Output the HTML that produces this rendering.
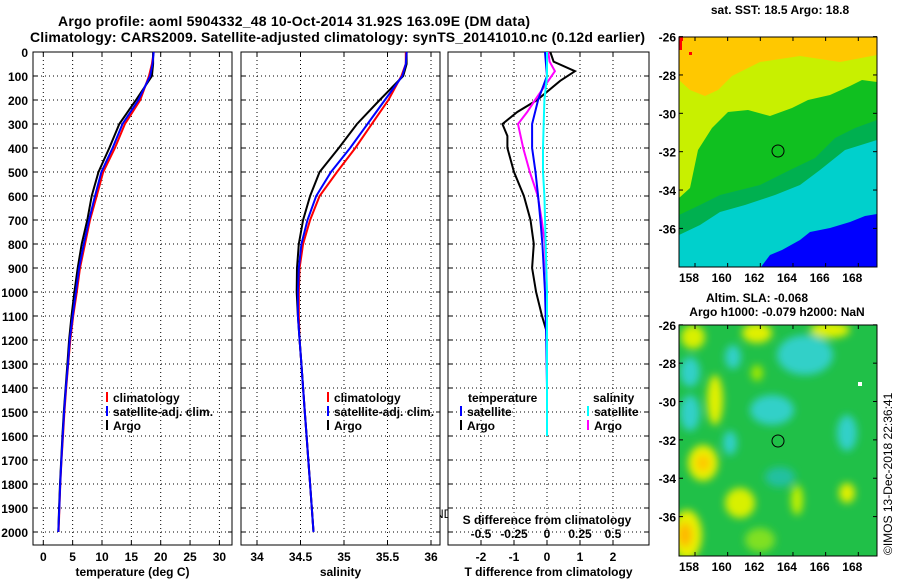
<!DOCTYPE html>
<html><head><meta charset="utf-8"><style>
html,body{margin:0;padding:0;background:#fff;width:900px;height:580px;overflow:hidden}
svg{display:block;font-family:"Liberation Sans",Arial,sans-serif}
.t{font-size:12px;font-weight:bold}
</style></head><body>
<svg id="fig" width="900" height="580" viewBox="0 0 900 580">
<defs>
<filter id="bl" x="-50%" y="-50%" width="200%" height="200%"><feGaussianBlur stdDeviation="4"/></filter>
<clipPath id="cm1"><rect x="679" y="37" width="198" height="230"/></clipPath>
<clipPath id="cm2"><rect x="679" y="325" width="198" height="231"/></clipPath>
</defs>
<text x="58" y="26" font-size="14" font-weight="bold" textLength="472">Argo profile: aoml 5904332_48 10-Oct-2014 31.92S 163.09E (DM data)</text>
<text x="30" y="42" font-size="14" font-weight="bold" textLength="615">Climatology: CARS2009. Satellite-adjusted climatology: synTS_20141010.nc (0.12d earlier)</text>

<g id="maps">
<g clip-path="url(#cm1)">
<rect x="679" y="37" width="198" height="230" fill="#00d0cc"/>
<polygon fill="#00b050" points="679,235 700,225 720,212 745,205 775,195 800,185 820,170 845,150 877,140 877,37 679,37"/>
<polygon fill="#10c020" points="679,215 700,205 720,195 760,185 790,170 815,158 835,138 855,128 877,120 877,37 679,37"/>
<polygon fill="#c8f000" points="679,198 690,188 698,150 712,128 728,112 748,110 770,116 792,108 808,100 830,95 850,86 862,80 877,82 877,37 679,37"/>
<polygon fill="#ffc800" points="679,80 690,90 705,96 718,90 732,76 760,62 800,56 840,62 877,55 877,37 679,37"/>
<polygon fill="#0000ff" points="761,267 770,255 782,250 800,240 810,232 830,228 850,222 865,216 877,214 877,267"/>
<rect x="679" y="37" width="4" height="4" fill="#ff0000"/><rect x="679" y="41" width="3" height="9" fill="#ff0000"/><rect x="689" y="52" width="3" height="3" fill="#ff0000"/>
</g>
<circle cx="778" cy="151" r="6" fill="none" stroke="#000"/>
<rect x="679" y="37" width="198" height="230" fill="none" stroke="#000"/>

<g clip-path="url(#cm2)">
<rect x="679" y="325" width="198" height="231" fill="#20c048"/>
<g filter="url(#bl)">
<ellipse cx="690" cy="372" rx="10" ry="15" fill="#30d0c8"/>
<ellipse cx="690" cy="413" rx="10" ry="18" fill="#30d0c8"/>
<ellipse cx="805" cy="355" rx="28" ry="20" fill="#30d0c8"/>
<ellipse cx="772" cy="410" rx="22" ry="15" fill="#30d0c8"/>
<ellipse cx="733" cy="357" rx="8" ry="12" fill="#30d0c8"/>
<ellipse cx="730" cy="443" rx="7" ry="12" fill="#30d0c8"/>
<ellipse cx="847" cy="433" rx="10" ry="18" fill="#30d0c8"/>
<ellipse cx="780" cy="477" rx="15" ry="10" fill="#20c0a0"/>
<ellipse cx="703" cy="463" rx="15" ry="18" fill="#e8f000"/>
<ellipse cx="703" cy="463" rx="7" ry="8" fill="#ffc800"/>
<ellipse cx="715" cy="400" rx="8" ry="25" fill="#e0f000"/>
<ellipse cx="693" cy="337" rx="12" ry="12" fill="#d8f000"/>
<ellipse cx="757" cy="333" rx="15" ry="10" fill="#e0f000"/>
<ellipse cx="830" cy="330" rx="20" ry="8" fill="#e0f000"/>
<ellipse cx="687" cy="535" rx="15" ry="25" fill="#e8f000"/>
<ellipse cx="685" cy="535" rx="7" ry="12" fill="#ffb800"/>
<ellipse cx="740" cy="503" rx="15" ry="15" fill="#d8f000"/>
<ellipse cx="847" cy="493" rx="8" ry="10" fill="#e0f000"/>
<ellipse cx="797" cy="500" rx="6" ry="15" fill="#c0f000"/>
<ellipse cx="757" cy="373" rx="6" ry="8" fill="#a0e800"/>
<ellipse cx="760" cy="540" rx="15" ry="12" fill="#80e020"/>
</g>
<rect x="858" y="382" width="4" height="4" fill="#fff"/>
</g>
<circle cx="778" cy="441" r="6" fill="none" stroke="#000"/>
<rect x="679" y="325" width="198" height="231" fill="none" stroke="#000"/>

<text x="780" y="14" text-anchor="middle" class="t">sat. SST: 18.5 Argo: 18.8</text>
<text x="757" y="302" text-anchor="middle" class="t">Altim. SLA: -0.068</text>
<text x="777" y="316" text-anchor="middle" class="t">Argo h1000: -0.079 h2000: NaN</text>
<text transform="translate(892,555) rotate(-90)" font-size="12">©IMOS 13-Dec-2018 22:36:41</text>
</g>

<text x="327" y="518" font-size="12" fill="#000">ARGO NEW ZEALAND</text>
<text x="327" y="532" font-size="12" fill="#000">PI: PHIL SUTTON</text>
<g id="plots"></g>
</svg>
<script>
// ---- data ----
const tDepth = [0,50,100,200,300,400,500,600,700,800,900,1000,1100,1200,1300,1400,1500,1600,1700,1800,1900,2000];
const tArgo  = [18.7,18.7,18.5,15.8,12.95,11.25,9.4,8.25,7.5,6.55,5.86,5.3,4.8,4.4,4.1,3.8,3.5,3.25,3.05,2.85,2.7,2.55];
const tClim  = [18.8,18.5,18.0,16.5,13.9,12.2,10.2,9.1,7.95,7.1,6.25,5.7,5.1,4.6,4.25,3.9,3.6,3.35,3.1,2.9,2.75,2.6];
const tSat   = [18.8,18.6,18.2,16.2,13.5,11.8,9.9,8.8,7.8,6.9,6.1,5.55,5.0,4.5,4.2,3.85,3.55,3.3,3.08,2.88,2.72,2.55];
const sDepth = [0,50,100,200,300,400,500,600,700,800,900,1000,1100,1200,1300,1400,1500,1600,1700,1800,1900,2000];
const sArgo  = [35.72,35.72,35.68,35.41,35.15,34.94,34.72,34.61,34.53,34.48,34.46,34.456,34.47,34.49,34.51,34.53,34.55,34.57,34.59,34.61,34.63,34.65];
const sClim  = [35.71,35.71,35.66,35.51,35.32,35.13,34.92,34.72,34.61,34.53,34.49,34.48,34.48,34.49,34.51,34.53,34.55,34.57,34.59,34.61,34.63,34.65];
const sSat   = [35.72,35.71,35.67,35.47,35.27,35.07,34.85,34.68,34.58,34.51,34.48,34.47,34.47,34.49,34.51,34.53,34.55,34.57,34.59,34.61,34.63,34.65];
const dTDepth = [0,40,80,120,200,250,300,350,400,450,500,600,700,800,900,1000,1100,1170];
const dTArgo  = [0.1,0.2,0.85,0.4,-0.3,-0.9,-1.35,-1.2,-1.2,-1.1,-1.0,-0.7,-0.5,-0.4,-0.45,-0.33,-0.15,0.0];
const dTSDepth = [0,100,200,300,400,500,600,700,800,900,1000,1100,1200,1400,1600];
const dTSat    = [-0.06,0.0,-0.27,-0.45,-0.45,-0.35,-0.27,-0.2,-0.14,-0.1,-0.06,-0.04,-0.02,0.0,0.0];
const dSDepth = [0,40,80,200,250,300,400,500,600,700,800,900,1000,1100];
const dSArgo  = [0.01,0.02,0.06,-0.09,-0.15,-0.22,-0.18,-0.13,-0.07,-0.04,-0.015,-0.01,0.0,0.0];
const dSSDepth = [0,100,200,300,400,500,600,800,1000,1200,1400,1600];
const dSSat    = [0.0,0.0,-0.02,-0.025,-0.03,-0.03,-0.02,-0.01,0.0,0.0,0.0,0.0];
const depthTicks = [0,100,200,300,400,500,600,700,800,900,1000,1100,1200,1300,1400,1500,1600,1700,1800,1900,2000];
const tTicks = [0,5,10,15,20,25,30];
const sTicks = [34,34.5,35,35.5,36];
const dTicks = [-2,-1,0,1,2];
const dSTicks = [-0.5,-0.25,0,0.25,0.5];
const dSTickLabels = ['-0.5','-0.25','0','0.25','0.5'];
const latTicks = [-26,-28,-30,-32,-34,-36];
const lonTicks = [158,160,162,164,166,168];

// ---- scales ----
const py = p => 52 + p*0.24;
const tx = v => 43.3 + v*5.87;
const sx = v => 257 + (v-34)*87;
const dx = v => 547 + v*33;
const dsx = v => 547 + v*132;
const NS='http://www.w3.org/2000/svg';
const root=document.getElementById('plots');
function el(tag,attrs,parent){const e=document.createElementNS(NS,tag);for(const k in attrs)e.setAttribute(k,attrs[k]);(parent||root).appendChild(e);return e;}
function txt(x,y,s,anchor,parent){const e=el('text',{x:x,y:y,'text-anchor':anchor||'middle','class':'t'},parent);e.textContent=s;return e;}

function panel(x0,x1,name,xticks,xf,xlabels,title){
  const g=el('g',{});
  
  
  el('rect',{x:x0,y:52,width:x1-x0,height:493,fill:'#fff'},g);
  depthTicks.forEach(p=>{el('line',{x1:x0,x2:x1,y1:py(p),y2:py(p),stroke:'#000','stroke-dasharray':'1,3'},g);
    el('line',{x1:x0,x2:x0+4,y1:py(p),y2:py(p),stroke:'#000'},g);el('line',{x1:x1-4,x2:x1,y1:py(p),y2:py(p),stroke:'#000'},g);});
  xticks.forEach((v,i)=>{const X=xf(v);el('line',{x1:X,x2:X,y1:52,y2:545,stroke:'#000','stroke-dasharray':'1,3'},g);
    el('line',{x1:X,x2:X,y1:545,y2:541,stroke:'#000'},g);el('line',{x1:X,x2:X,y1:52,y2:56,stroke:'#000'},g);
    const lab=txt(X,561,xlabels[i],'middle',g);
    
    });
  el('rect',{x:x0,y:52,width:x1-x0,height:493,fill:'none',stroke:'#000'},g);
  const tt=txt((x0+x1)/2,576,title,'middle',g);
  
  
  return g;
}
function line(g,depths,vals,xf,color,name){
  const pts=depths.map((p,i)=>xf(vals[i]).toFixed(1)+','+py(p).toFixed(1)).join(' ');
  const e=el('polyline',{points:pts,fill:'none',stroke:color,'stroke-width':2},g);
  
  
}
function legend(g,x,y,color,label){
  el('line',{x1:x,x2:x,y1:y-10,y2:y,stroke:color,'stroke-width':2},g);
  const t=txt(x+6,y,label,'start',g);
  
  
}

// temperature
const g1=panel(33,232,'temperature-panel',tTicks,tx,tTicks.map(String),'temperature (deg C)');
depthTicks.forEach(p=>{const l=txt(28,py(p)+5,String(p),'end',g1);
  
  });
line(g1,tDepth,tClim,tx,'#ff0000','temp-climatology-line');
line(g1,tDepth,tArgo,tx,'#000000','temp-argo-line');
line(g1,tDepth,tSat,tx,'#0000ff','temp-satellite-line');
legend(g1,107,402,'#ff0000','climatology');legend(g1,107,416,'#0000ff','satellite-adj. clim.');legend(g1,107,430,'#000','Argo');

// salinity
const g2=panel(241,440,'salinity-panel',sTicks,sx,sTicks.map(String),'salinity');
line(g2,sDepth,sClim,sx,'#ff0000','sal-climatology-line');
line(g2,sDepth,sArgo,sx,'#000000','sal-argo-line');
line(g2,sDepth,sSat,sx,'#0000ff','sal-satellite-line');
legend(g2,328,402,'#ff0000','climatology');legend(g2,328,416,'#0000ff','satellite-adj. clim.');legend(g2,328,430,'#000','Argo');

// difference
const g3=panel(448,649,'difference-panel',dTicks,dx,dTicks.map(String),'T difference from climatology');
line(g3,dTDepth,dTArgo,dx,'#000000','tdiff-argo-line');
line(g3,dSDepth,dSArgo,dsx,'#ff00ff','sdiff-argo-line');
line(g3,dTSDepth,dTSat,dx,'#0000ff','tdiff-satellite-line');
line(g3,dSSDepth,dSSat,dsx,'#00ffff','sdiff-satellite-line');
txt(468,402,'temperature','start',g3);txt(593,402,'salinity','start',g3);
legend(g3,461,416,'#0000ff','satellite');legend(g3,461,430,'#000','Argo');
legend(g3,588,416,'#00ffff','satellite');legend(g3,588,430,'#ff00ff','Argo');
const st=txt(547,524,'S difference from climatology','middle',g3);


dSTicks.forEach((v,i)=>{const l=txt(dsx(v),538,dSTickLabels[i],'middle',g3);
  
  });

// map axes
const maps=document.getElementById('maps');
const lonX = lon => 695 + (lon-158)*16.33;
[[36.6,37,267],[324.8,325,556]].forEach(([y0,top,bot])=>{
  latTicks.forEach(lat=>{const Y=y0+(-26-lat)*19.18;
    el('line',{x1:679,x2:683,y1:Y,y2:Y,stroke:'#000'},maps);el('line',{x1:873,x2:877,y1:Y,y2:Y,stroke:'#000'},maps);
    const l=txt(676,Y+5,String(lat),'end',maps);
    
    });
  lonTicks.forEach(lon=>{const X=lonX(lon);
    el('line',{x1:X,x2:X,y1:bot,y2:bot-4,stroke:'#000'},maps);el('line',{x1:X,x2:X,y1:top,y2:top+4,stroke:'#000'},maps);
    const l=txt(X-6,bot+15,String(lon),'middle',maps);
    
    });
});
</script>
</body></html>
